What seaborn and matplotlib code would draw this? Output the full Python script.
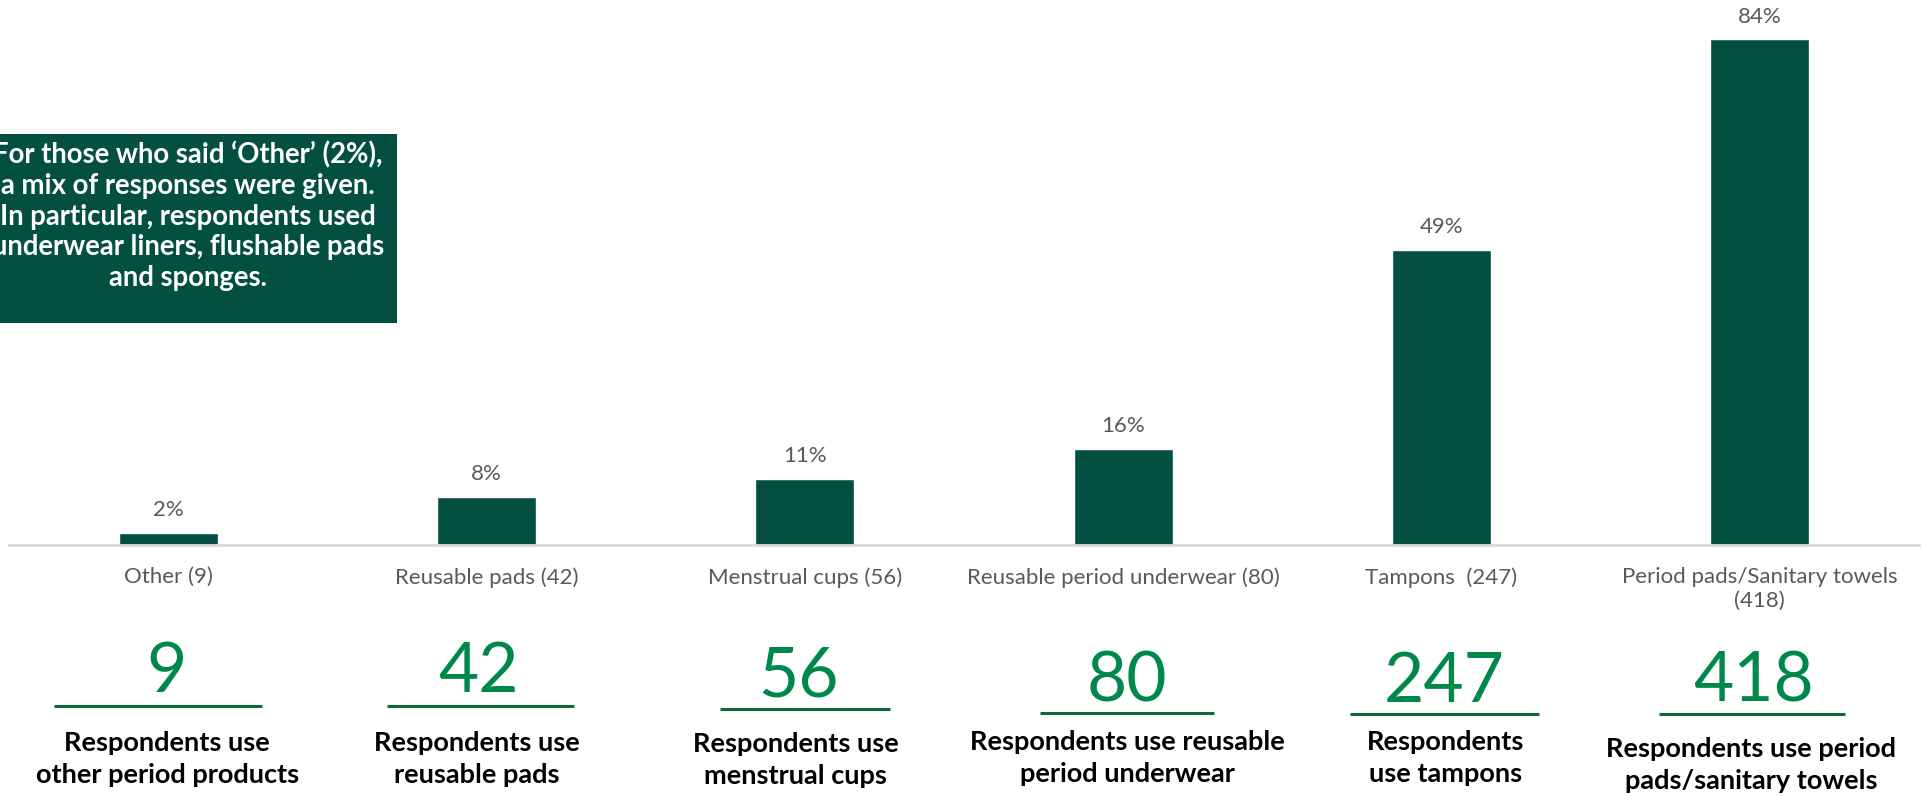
import matplotlib
matplotlib.use("Agg")
import matplotlib.pyplot as plt
import matplotlib.transforms as mtransforms
from matplotlib.patches import Rectangle
import pandas as pd
import seaborn as sns

# Survey data: share of respondents using each period product
categories = [
    "Other (9)",
    "Reusable pads (42)",
    "Menstrual cups (56)",
    "Reusable period underwear (80)",
    "Tampons  (247)",
    "Period pads/Sanitary towels\n(418)",
]
shares = [2, 8, 11, 16, 49, 84]
counts = [9, 42, 56, 80, 247, 418]
captions = [
    "Respondents use\nother period products",
    "Respondents use\nreusable pads",
    "Respondents use\nmenstrual cups",
    "Respondents use reusable\nperiod underwear",
    "Respondents\nuse tampons",
    "Respondents use period\npads/sanitary towels",
]
note = ("For those who said \u2018Other\u2019 (2%),\n"
        "a mix of responses were given.\n"
        "In particular, respondents used\n"
        "underwear liners, flushable pads\n"
        "and sponges.")

W, H = 1923, 797
BAR = "#034F41"
GREEN = "#00884A"
RULE = "#0B6B3A"
GREY = "#595959"

sns.set_theme(style="white")
plt.rcParams["font.family"] = ["Lato", "DejaVu Sans"]

fig = plt.figure(figsize=(W / 100, H / 100), dpi=100)
ax = fig.add_axes([9 / W, 1 - 545 / H, 1910 / W, 545 / H])

df = pd.DataFrame({"category": categories, "share": shares})
sns.barplot(data=df, x="category", y="share", color=BAR, width=0.31,
            saturation=1, ax=ax)
ax.set_ylim(0, 90.5)
ax.set_xlim(-0.5, len(categories) - 0.5)

for c in ax.containers:
    ax.bar_label(c, labels=[f"{v}%" for v in shares], padding=9,
                 fontsize=16, color=GREY)

ax.set_xlabel("")
ax.set_ylabel("")
ax.set_yticks([])
ax.tick_params(axis="x", length=0, pad=16, labelsize=16, labelcolor=GREY)
for s in ("top", "right", "left"):
    ax.spines[s].set_visible(False)
ax.spines["bottom"].set_color("#D9D9D9")
ax.spines["bottom"].set_linewidth(2)

# Headline counts with a rule and a caption under each category
blend = mtransforms.blended_transform_factory(ax.transData, fig.transFigure)
px = 1 / 318.3  # category units per pixel
num_y = [673, 673, 677, 682, 682, 682]
num_dx = [-2, -8, -6, 4, 3, -6]
rule_y = [706, 706, 709, 713, 714, 714]
rule_half = [104, 93, 85, 87, 94, 93]
rule_dx = [-10, -6, 0, 4, 3, -8]
cap_y = [759, 759, 760, 758, 758, 765]
cap_dx = [-1, -10, -9, 4, 4, -9]

for i, n in enumerate(counts):
    ax.text(i + num_dx[i] * px, 1 - num_y[i] / H, str(n), transform=blend,
            ha="center", va="center", fontsize=50, color=GREEN,
            clip_on=False)
    xc = i + rule_dx[i] * px
    ax.plot([xc - rule_half[i] * px, xc + rule_half[i] * px],
            [1 - rule_y[i] / H] * 2, transform=blend, color=RULE, lw=2.2,
            clip_on=False, solid_capstyle="butt")
    ax.text(i + cap_dx[i] * px, 1 - cap_y[i] / H, captions[i],
            transform=blend, ha="center", va="center", fontsize=19.5,
            fontweight="bold", color="black", linespacing=1.4,
            clip_on=False)

# Note box about the "Other" responses
fig.patches.append(Rectangle((-6 / W, 1 - 323 / H), 403 / W, 189 / H,
                             transform=fig.transFigure, facecolor=BAR,
                             edgecolor="none"))
fig.text(188 / W, 1 - 216 / H, note, ha="center", va="center",
         fontsize=19.8, fontweight="bold", color="white", linespacing=1.22)

fig.savefig("out.png", dpi=100, facecolor="white")
